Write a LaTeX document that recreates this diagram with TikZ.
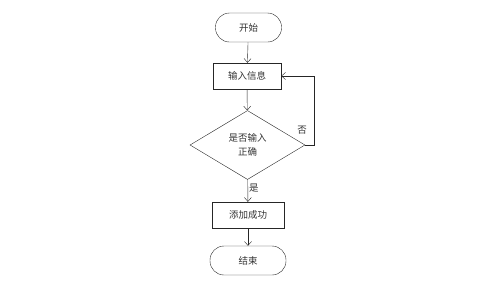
\documentclass[tikz,border=0pt]{standalone}
\usepackage{fontspec}
\newfontfamily\cjk{Noto Sans CJK SC}
\usetikzlibrary{arrows.meta,shapes.geometric}

\begin{document}
\begin{tikzpicture}[
  x=1pt, y=-1pt,
  >={Straight Barb[length=4pt,width=7pt]},
  every node/.style={font=\cjk\fontsize{9.5}{12}\selectfont, text=black!80},
  flowline/.style={thin, black!85, ->},
  terminal/.style={draw=black!85, thin, rounded corners=14pt, inner sep=0pt, minimum height=29pt},
  process/.style={draw=black!85, thin, inner sep=0pt, minimum height=26pt},
  decision/.style={draw=black!85, thin, diamond, aspect=1.67, inner sep=0pt,
    minimum width=115pt, minimum height=69pt, align=center},
]
\useasboundingbox (0,0) rectangle (500,290);

% Nodes, top to bottom
\node[terminal, minimum width=66pt] (start) at (248.5,27.5) {开始};
\node[process, minimum width=68pt] (input) at (247,76) {输入信息};
\node[decision] (check) at (247.5,145) {是否输入\\[2pt]正确};
\node[process, minimum width=72pt] (added) at (248,215) {添加成功};
\node[terminal, minimum width=76pt] (finish) at (248,260.5) {结束};

% Main flow
\draw[flowline] (start) -- (input);
\draw[flowline] (input) -- (check);
\draw[flowline] (check) -- node[right, pos=0.4, inner sep=1pt] {是} (added);
\draw[flowline] (added) -- (finish);

% Retry loop
\coordinate (loopcorner) at (314,145);
\draw[flowline] (check.east) -- (loopcorner) |- (input.east);
\node at (302,130) {否};
\end{tikzpicture}
\end{document}
